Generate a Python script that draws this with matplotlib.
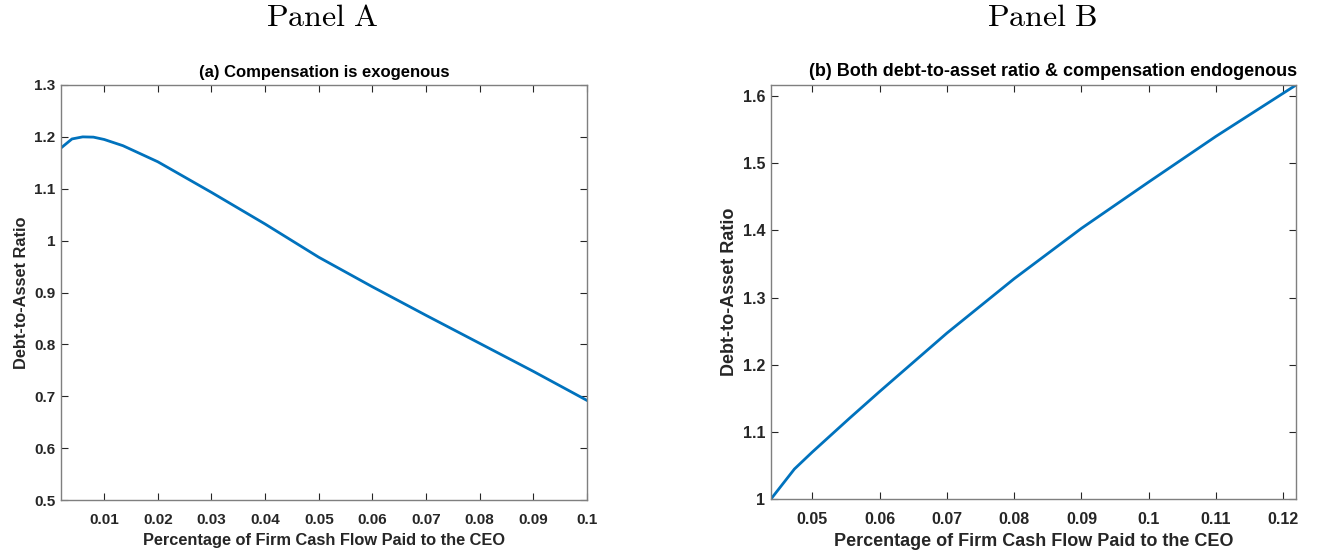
import matplotlib
matplotlib.use("Agg")
import matplotlib.pyplot as plt
from matplotlib.ticker import FuncFormatter

# ---- data ----
x_a = [0.002, 0.004, 0.006, 0.008, 0.010, 0.0135, 0.02, 0.03, 0.04, 0.05, 0.06, 0.07, 0.08, 0.09, 0.10]
y_a = [1.179, 1.196, 1.200, 1.1995, 1.195, 1.183, 1.152, 1.093, 1.032, 0.968, 0.911, 0.856, 0.802, 0.748, 0.692]

x_b = [0.04385, 0.04733, 0.05, 0.0555, 0.06, 0.07, 0.08, 0.09, 0.10, 0.11, 0.1219]
y_b = [1.0, 1.0446, 1.070, 1.120, 1.160, 1.247, 1.328, 1.403, 1.472, 1.540, 1.6164]

xticks_a = [0.01, 0.02, 0.03, 0.04, 0.05, 0.06, 0.07, 0.08, 0.09, 0.1]
yticks_a = [0.5, 0.6, 0.7, 0.8, 0.9, 1.0, 1.1, 1.2, 1.3]
xticks_b = [0.05, 0.06, 0.07, 0.08, 0.09, 0.1, 0.11, 0.12]
yticks_b = [1.0, 1.1, 1.2, 1.3, 1.4, 1.5, 1.6]

panel_titles = ["Panel A", "Panel B"]
titles = ["(a) Compensation is exogenous",
          "(b) Both debt-to-asset ratio & compensation endogenous"]
xlabel = "Percentage of Firm Cash Flow Paid to the CEO"
ylabel = "Debt-to-Asset Ratio"

# ---- style ----
plt.rcParams['font.family'] = ['Liberation Sans', 'DejaVu Sans']
plt.rcParams['font.weight'] = 'bold'
plt.rcParams['mathtext.fontset'] = 'cm'
line_color = '#0072BD'
axis_color = '#262626'

fig = plt.figure(figsize=(13.17, 5.57), dpi=100)
ax_a = fig.add_axes([0.0463, 0.1023, 0.3994, 0.7451])
ax_b = fig.add_axes([0.5854, 0.1041, 0.3987, 0.7433])

fmt = FuncFormatter(lambda v, p: ('%g' % round(v, 4)))

def style(ax, fs_tick, fs_lab, xlpad, ylpad):
    for s in ax.spines.values():
        s.set_color('#7f7f7f')
        s.set_linewidth(1.0)
    ax.tick_params(direction='in', top=True, right=True, length=5, width=0.8,
                   color=axis_color, labelcolor=axis_color, labelsize=fs_tick)
    ax.tick_params(axis='x', pad=9)
    ax.tick_params(axis='y', pad=4)
    for lab in ax.get_xticklabels() + ax.get_yticklabels():
        lab.set_fontweight('bold')
    ax.xaxis.set_major_formatter(fmt)
    ax.yaxis.set_major_formatter(fmt)
    ax.set_xlabel(xlabel, fontsize=fs_lab, fontweight='bold', color=axis_color, labelpad=xlpad)
    ax.set_ylabel(ylabel, fontsize=fs_lab, fontweight='bold', color=axis_color, labelpad=ylpad)

# Panel A
ax_a.plot(x_a, y_a, color=line_color, lw=2.0)
ax_a.set_xlim(0.00195, 0.1)
ax_a.set_ylim(0.5, 1.3)
ax_a.set_xticks(xticks_a)
ax_a.set_yticks(yticks_a)
style(ax_a, 11, 11.8, 5, 3.5)
ax_a.text(0.5, 1.012, titles[0], transform=ax_a.transAxes, ha='center', va='bottom',
          fontsize=12, fontweight='bold', color='black')

# Panel B
ax_b.plot(x_b, y_b, color=line_color, lw=2.0)
ax_b.set_xlim(0.04385, 0.1219)
ax_b.set_ylim(1.0, 1.6164)
ax_b.set_xticks(xticks_b)
ax_b.set_yticks(yticks_b)
style(ax_b, 11.5, 13, 5, 3.5)
ax_b.text(0.537, 1.012, titles[1], transform=ax_b.transAxes, ha='center', va='bottom',
          fontsize=13, fontweight='bold', color='black')

# Panel headings (LaTeX-style serif)
fig.text(322 / 1317, 1 - 18 / 557, r'$\mathrm{Panel\ A}$', ha='center', va='center', fontsize=23)
fig.text(1042 / 1317, 1 - 18 / 557, r'$\mathrm{Panel\ B}$', ha='center', va='center', fontsize=23)

fig.savefig('out.png', dpi=100, facecolor='white')
